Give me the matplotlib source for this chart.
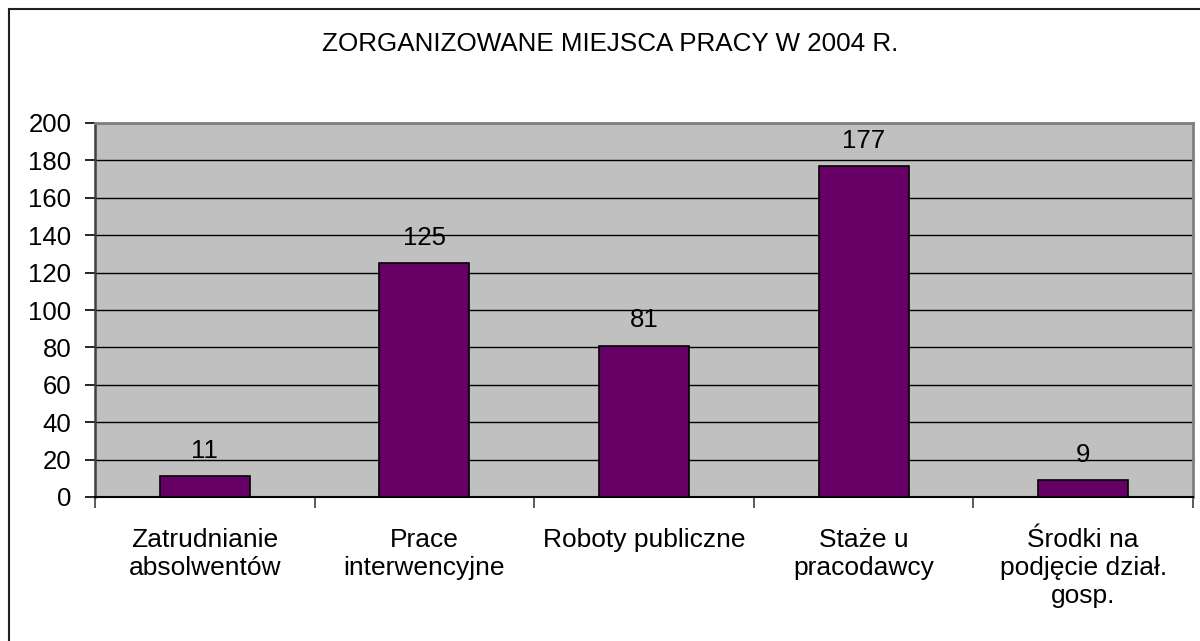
import matplotlib
matplotlib.use("Agg")
import matplotlib.pyplot as plt
from matplotlib.patches import Rectangle
import numpy as np

plt.rcParams['font.family'] = ['Liberation Sans', 'DejaVu Sans']

title = "ZORGANIZOWANE MIEJSCA PRACY W 2004 R."
categories = ["Zatrudnianie\nabsolwentów", "Prace\ninterwencyjne", "Roboty publiczne",
              "Staże u\npracodawcy", "Środki na\npodjęcie dział.\ngosp."]
values = [11, 125, 81, 177, 9]
yticks = [0, 20, 40, 60, 80, 100, 120, 140, 160, 180, 200]

W, H = 1200, 641
fig = plt.figure(figsize=(W / 100, H / 100), dpi=100)
fig.patch.set_facecolor('white')

# outer chart border (right and bottom edges run off the image)
fig.add_artist(Rectangle((9 / W, -0.1), 1.2, 1 - 9 / H + 0.1, transform=fig.transFigure,
                         fill=False, edgecolor='#202020', linewidth=1.5))

left, right, top, bottom = 95, 1193, 123, 497
ax = fig.add_axes([left / W, 1 - bottom / H, (right - left) / W, (bottom - top) / H])
ax.set_facecolor('#C0C0C0')

x = np.arange(len(categories))
bars = ax.bar(x, values, width=0.41, color='#660066', edgecolor='black', linewidth=1.2, zorder=3)

ax.set_ylim(0, 200)
ax.set_xlim(-0.5, len(categories) - 0.5)
ax.set_yticks(yticks)
ax.set_yticklabels([str(v) for v in yticks], fontsize=18.5)
ax.yaxis.grid(True, color='black', linewidth=1.0, zorder=1)
ax.set_axisbelow(True)

ax.set_xticks(x)
ax.set_xticklabels(categories, fontsize=19, linespacing=1.22)
ax.tick_params(axis='x', which='major', length=0, pad=22)
ax.set_xticks(np.arange(-0.5, len(categories)), minor=True)
ax.tick_params(axis='x', which='minor', length=8, width=1.2, color='#404040')
ax.tick_params(axis='y', length=7, width=1.2, color='black', pad=10)

for spine in ('top', 'right'):
    ax.spines[spine].set_color('#808080')
    ax.spines[spine].set_linewidth(2)
ax.spines['left'].set_color('#404040')
ax.spines['left'].set_linewidth(1.8)
ax.spines['bottom'].set_color('black')
ax.spines['bottom'].set_linewidth(1.5)

for xi, v in zip(x, values):
    ax.annotate(str(v), (xi, v), xytext=(0, 13), textcoords='offset points',
                ha='center', va='baseline', fontsize=18.5, zorder=4)

fig.text(610 / W, 1 - 44 / H, title, ha='center', va='center', fontsize=18.7)

fig.savefig('out.png', dpi=100)
